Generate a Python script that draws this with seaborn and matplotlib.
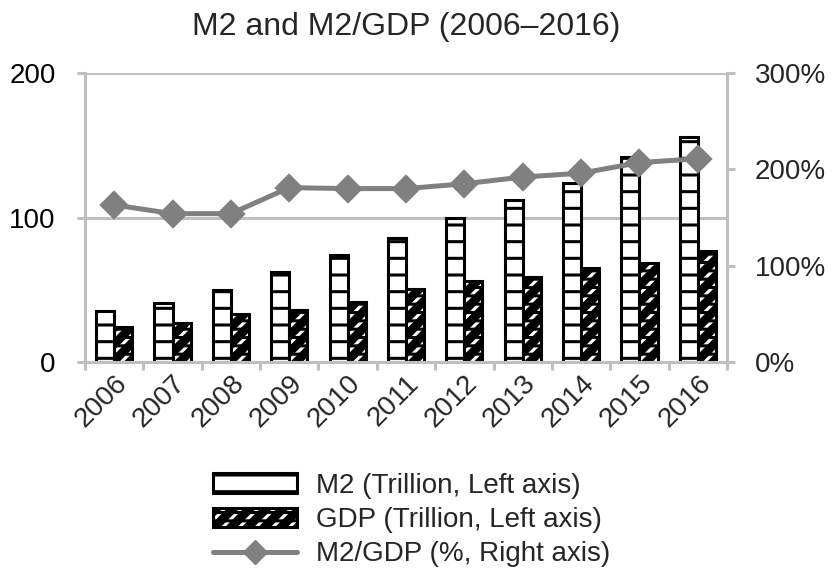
import numpy as np
import pandas as pd
import matplotlib
matplotlib.use('Agg')
import matplotlib.pyplot as plt
import seaborn as sns
from matplotlib.patches import Patch, Rectangle
from matplotlib.lines import Line2D
from matplotlib.legend_handler import HandlerTuple

# Chart data
years = ['2006', '2007', '2008', '2009', '2010', '2011',
         '2012', '2013', '2014', '2015', '2016']
m2 = [35, 41, 50, 62, 74, 86, 100, 112, 124, 142, 156]
gdp = [24, 27, 33, 36, 41.5, 50.5, 56, 59, 65, 68.5, 77]
ratio = [163, 154, 154, 181, 180, 180, 185, 192, 196, 207, 211]
left_ticks = [0, 100, 200]
right_ticks = [0, 100, 200, 300]
series_names = ['M2 (Trillion, Left axis)', 'GDP (Trillion, Left axis)']
line_name = 'M2/GDP (%, Right axis)'

sns.set_style('white')
plt.rcParams['font.family'] = ['Liberation Sans', 'DejaVu Sans']
plt.rcParams['hatch.linewidth'] = 2.2

grid_col = '#bfbfbf'
line_col = '#808080'

df = pd.DataFrame({
    'Year': years * 2,
    'Value': m2 + gdp,
    'Series': [series_names[0]] * len(years) + [series_names[1]] * len(years),
})

fig, ax = plt.subplots(figsize=(8.33, 5.75), dpi=100)
fig.subplots_adjust(left=85 / 833, right=727 / 833, top=1 - 73 / 575, bottom=1 - 362 / 575)

sns.barplot(data=df, x='Year', y='Value', hue='Series', palette=['white', 'black'],
            width=0.62, gap=0, edgecolor='black', linewidth=2.2, legend=False, ax=ax)

# M2: white boxes with horizontal black dividers
for bar in ax.containers[0]:
    bar.set_hatch('-')
# GDP: black bars with short white slashes, outlined in black
for bar in ax.containers[1]:
    bar.set_facecolor('black')
    bar.set_edgecolor('white')
    bar.set_hatch('//')
    ax.add_patch(Rectangle(bar.get_xy(), bar.get_width(), bar.get_height(),
                           fill=False, edgecolor='black', hatch='--', linewidth=2.2,
                           zorder=bar.get_zorder() + 0.1))

ax.set_ylim(0, 200)
ax.set_xlim(-0.5, len(years) - 0.5)
ax.set_yticks(left_ticks)
ax.yaxis.grid(True, color=grid_col, linewidth=2.2)
ax.set_axisbelow(True)
ax.set_xlabel('')
ax.set_ylabel('')
ax.tick_params(axis='y', left=True, length=6, width=2.2, color=grid_col,
               labelsize=20, pad=15, labelcolor='black')
ax.tick_params(axis='x', which='major', length=0, labelsize=20, pad=6)
ax.set_xticks(np.arange(-0.5, len(years), 1), minor=True)
ax.tick_params(axis='x', which='minor', length=6, width=2.2, color=grid_col, bottom=True)
for side in ['top', 'right']:
    ax.spines[side].set_visible(False)
for side in ['left', 'bottom']:
    ax.spines[side].set_color(grid_col)
    ax.spines[side].set_linewidth(2.2)

# Ratio line on the right axis
ax2 = ax.twinx()
sns.pointplot(x=years, y=ratio, color=line_col, markers='D', markersize=12,
              linewidth=3.6, ax=ax2)
ax2.set_ylim(0, 300)
ax2.set_xlim(-0.5, len(years) - 0.5)
ax2.set_yticks(right_ticks)
ax2.set_yticklabels([f'{t}%' for t in right_ticks])
ax2.tick_params(axis='y', right=True, length=6, width=2.2, color=grid_col,
                labelsize=20, pad=14)
for side in ['top', 'left', 'bottom']:
    ax2.spines[side].set_visible(False)
ax2.spines['right'].set_color(grid_col)
ax2.spines['right'].set_linewidth(2.2)
ax2.grid(False)

# rotated year labels
for lab in ax.get_xticklabels():
    lab.set_rotation(45)
    lab.set_ha('right')
    lab.set_va('top')
    lab.set_rotation_mode('anchor')

ax.set_title('M2 and M2/GDP (2006\u20132016)', fontsize=23, pad=27)

# Legend
h_m2 = Patch(facecolor='white', edgecolor='black', hatch='-', linewidth=2.2)
h_gdp = (Patch(facecolor='black', edgecolor='white', hatch='//', linewidth=2.2),
         Patch(facecolor='none', edgecolor='black', hatch='--', linewidth=2.2))
h_line = Line2D([], [], color=line_col, linewidth=3.6, marker='D', markersize=12)
fig.legend([h_m2, h_gdp, h_line], series_names + [line_name],
           handler_map={tuple: HandlerTuple(ndivide=1, pad=0)},
           loc='center', bbox_to_anchor=(412 / 833, 1 - 520 / 575),
           frameon=False, fontsize=20, handlelength=3.0, handleheight=0.7,
           handletextpad=0.7, labelspacing=0.3)

fig.savefig('out.png', dpi=100)
